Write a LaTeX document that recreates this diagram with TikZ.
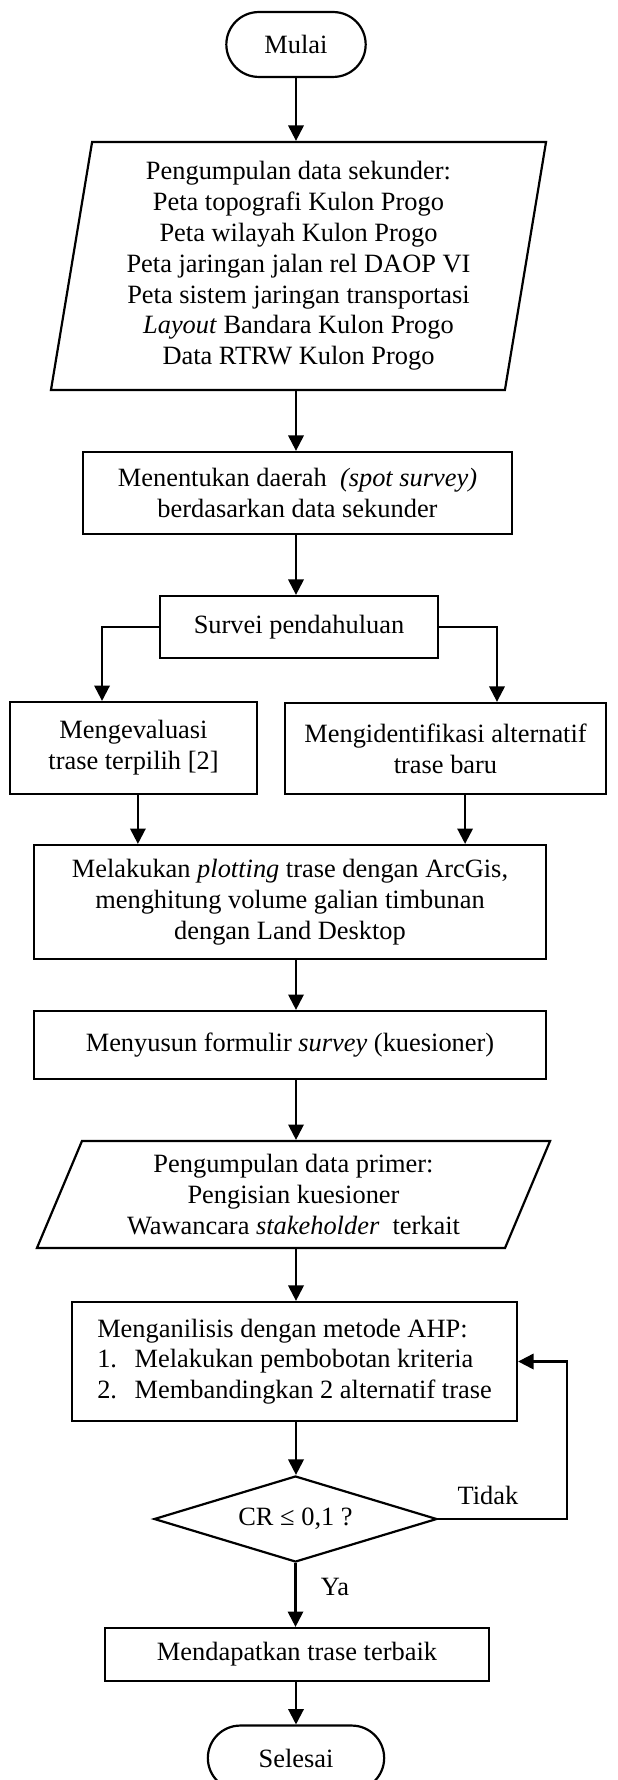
\documentclass[tikz,border=0pt]{standalone}
\usepackage{fontspec}
\setmainfont{Liberation Serif}
\usetikzlibrary{shapes.geometric,shapes.misc,arrows.meta}

\begin{document}
\begin{tikzpicture}
  [x=0.4545pt,y=-0.4545pt,line width=1pt,
   every node/.style={font=\fontsize{12}{14}\selectfont,align=center},
   term/.style={draw,rounded rectangle,minimum height=29.5pt},
   proc/.style={draw,rectangle,inner sep=2pt},
   data/.style={draw,trapezium,trapezium stretches body,inner sep=2pt},
   cek/.style={draw,diamond,aspect=3.3,inner sep=0pt},
   arr/.style={-{Triangle[width=7pt,length=7pt]}}]

  \useasboundingbox (0,0) rectangle (617,1780);

  \node[term,minimum width=70pt] (mulai) at (296,44.5) {Mulai};
  \node[data,trapezium left angle=79.3,trapezium right angle=100.7,
        minimum width=225pt,minimum height=112.7pt] (sekunder) at (298.5,266)
    {Pengumpulan data sekunder:\\Peta topografi Kulon Progo\\Peta wilayah Kulon Progo\\
     Peta jaringan jalan rel DAOP VI\\Peta sistem jaringan transportasi\\
     \textit{Layout} Bandara Kulon Progo\\Data RTRW Kulon Progo};
  \node[proc,minimum width=195pt,minimum height=37.3pt] (spot) at (297.5,493)
    {Menentukan daerah~ \textit{(spot survey)}\\berdasarkan data sekunder};
  \node[proc,minimum width=126.4pt,minimum height=28.2pt] (survei) at (299,627) {Survei pendahuluan};
  \node[proc,minimum width=112.3pt,minimum height=41.8pt] (evaluasi) at (133.5,748)
    {Mengevaluasi\\trase terpilih [2]};
  \node[proc,minimum width=145.9pt,minimum height=41.4pt] (identifikasi) at (445.5,748.5)
    {Mengidentifikasi alternatif\\trase baru};
  \node[proc,minimum width=232.7pt,minimum height=51.8pt] (plotting) at (290,902)
    {Melakukan \textit{plotting} trase dengan ArcGis,\\menghitung volume galian timbunan\\dengan Land Desktop};
  \node[proc,minimum width=232.7pt,minimum height=30.9pt] (formulir) at (290,1045)
    {Menyusun formulir \textit{survey} (kuesioner)};
  \node[data,trapezium left angle=63.2,trapezium right angle=116.8,
        minimum width=233.2pt,minimum height=48.6pt] (primer) at (293.5,1194.5)
    {Pengumpulan data primer:\\Pengisian kuesioner\\Wawancara \textit{stakeholder}~ terkait};
  \node[proc,align=left,minimum width=202.3pt,minimum height=54.1pt] (ahp) at (294.5,1361.5)
    {Menganilisis dengan metode AHP:\\\makebox[17pt][l]{1.}Melakukan pembobotan kriteria\\
     \makebox[17pt][l]{2.}Membandingkan 2 alternatif trase};
  \node[cek,minimum width=128.6pt,minimum height=39.1pt] (cr) at (295.5,1519) {CR ≤ 0,1 ?};
  \node[proc,minimum width=174.5pt,minimum height=24.1pt] (terbaik) at (297,1654.5)
    {Mendapatkan trase terbaik};
  \node[term,minimum width=86.8pt] (selesai) at (296,1758) {Selesai};
  \node (tidak) at (488,1495) {Tidak};
  \node (ya) at (335,1587) {Ya};
  \coordinate (balik) at (567,1519);

  \foreach \from/\to in {mulai/sekunder,sekunder/spot,spot/survei,plotting/formulir,
                         formulir/primer,primer/ahp,ahp/cr,terbaik/selesai}
    \draw[arr] (\from.south -| mulai) -- (\to.north -| mulai);
  \draw[arr] (survei.west) -| ([xshift=-14.3pt]evaluasi.north);
  \draw[arr] (survei.east) -| ([xshift=23.4pt]identifikasi.north);
  \draw[arr] ([xshift=2pt]evaluasi.south) -- ([xshift=2pt]evaluasi.south |- plotting.north);
  \draw[arr] ([xshift=8.9pt]identifikasi.south) -- ([xshift=8.9pt]identifikasi.south |- plotting.north);
  \draw[arr] (cr.south) -- (cr.south |- terbaik.north);
  \draw[arr] (cr.east) -- (balik) |- (ahp.east);
\end{tikzpicture}
\end{document}
